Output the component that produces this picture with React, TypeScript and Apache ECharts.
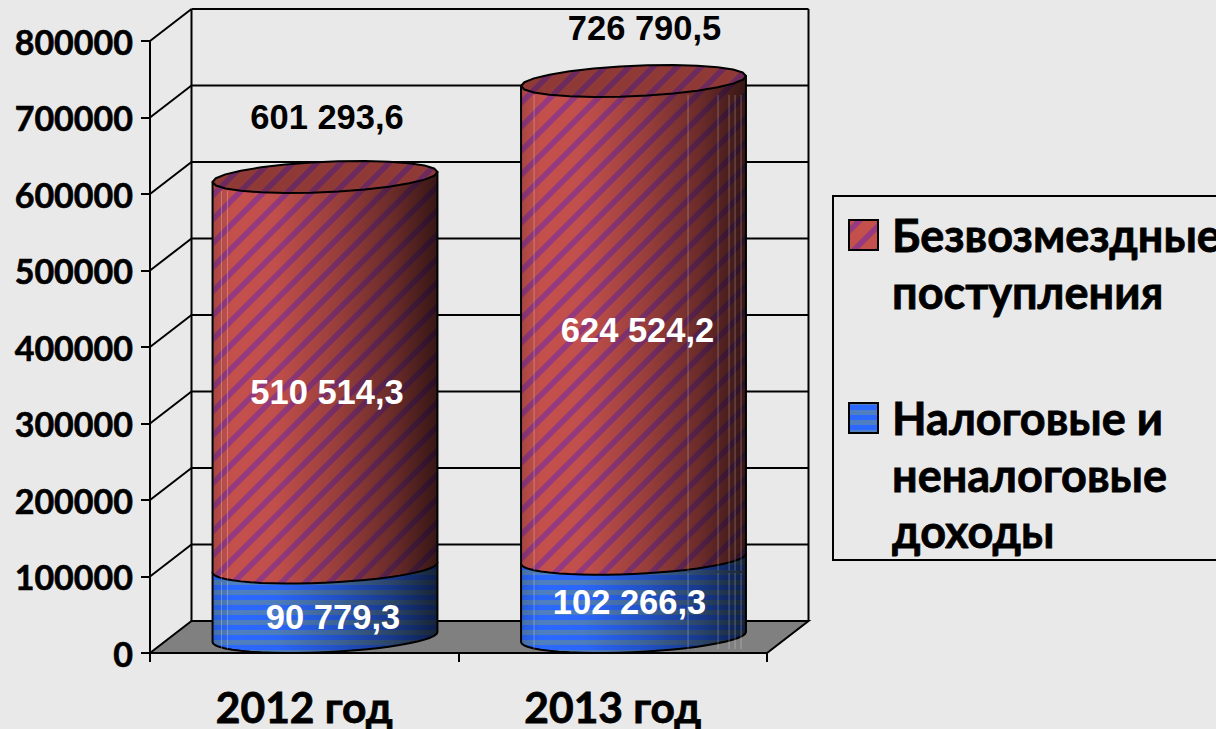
import React, { useEffect, useRef } from "react";
import * as echarts from "echarts";

const categories = ["2012 год", "2013 год"];
const taxIncome = [90779.3, 102266.3];
const grants = [510514.3, 624524.2];
const totals = [601293.6, 726790.5];
const yTicks = [0, 100000, 200000, 300000, 400000, 500000, 600000, 700000, 800000];
const legendGrants = ["Безвозмездные", "поступления"];
const legendTax = ["Налоговые и", "неналоговые", "доходы"];

const DEPTH_X = 41.5;
const DEPTH_Y = 32;
const RX_BAND = 0.3645;
const RY = 15.2;
const TILT = 5;
const FACETS = 26;
const LABEL_FONT = '"Liberation Sans", Arial, sans-serif';
const TITLE_FONT = 'Lato, "Noto Sans", sans-serif';

const taxLabelOffset = [[8, 15], [-4, 4]];
const grantLabelOffset = [[2, 20], [4, 10]];
const totalLabelOffset = [[2, -60], [11, -53]];
const sheenLines = [[9, 15], [13, 167, 197, 208, 214, 220]];

const fmt = (v: number) => {
  const [i, d] = v.toFixed(1).split(".");
  return i.replace(/\B(?=(\d{3})+$)/g, " ") + "," + d;
};

function tile(w: number, h: number, draw: (c: CanvasRenderingContext2D) => void) {
  const cv = document.createElement("canvas");
  cv.width = w;
  cv.height = h;
  draw(cv.getContext("2d") as CanvasRenderingContext2D);
  return { image: cv.toDataURL(), repeat: "repeat", imageWidth: w, imageHeight: h };
}

function redPattern() {
  const P = 24;
  return tile(P, P, (c) => {
    c.fillStyle = "#C4504C";
    c.fillRect(0, 0, P, P);
    c.strokeStyle = "#953A80";
    c.lineWidth = 5.5;
    for (const o of [-P, 0, P]) {
      c.beginPath();
      c.moveTo(o - 2, P + 2);
      c.lineTo(o + P + 2, -2);
      c.stroke();
    }
  });
}

function bluePattern() {
  return tile(10, 10, (c) => {
    c.fillStyle = "#2B68FF";
    c.fillRect(0, 0, 10, 10);
    c.fillStyle = "#4F7FC0";
    c.fillRect(0, 0, 10, 5);
  });
}

function ellipsePts(cx: number, cy: number, a: number, from: number, to: number) {
  const pts: number[][] = [];
  for (let i = 0; i <= FACETS; i++) {
    const t = from + ((to - from) * i) / FACETS;
    pts.push([cx + a * Math.cos(t), cy + RY * Math.sin(t) - TILT * Math.cos(t)]);
  }
  return pts;
}

function cylinderItem(fill: any, offsets: number[][], capped: boolean) {
  return (params: any, api: any) => {
    const cat = api.value(0);
    const lo = api.value(1);
    const hi = api.value(2);
    const grid = params.coordSys;
    const band = grid.width / categories.length;
    const a = band * RX_BAND;
    const base = api.coord([cat, lo]);
    const top = api.coord([cat, hi]);
    const cx = base[0] + DEPTH_X / 2;
    const yLo = base[1] - DEPTH_Y / 2;
    const yHi = top[1] - DEPTH_Y / 2;
    const mid = api.coord([cat, (lo + hi) / 2])[1] - DEPTH_Y / 2;

    // Front half of the lower rim, left to right (sin t runs positive).
    const frontArc = ellipsePts(cx, yLo, a, Math.PI, 0).map((p) => {
      const tiltPart = (-TILT * (p[0] - cx)) / a;
      return [p[0], yLo + tiltPart + Math.abs(p[1] - yLo - tiltPart)];
    });
    const body = [[cx - a, yHi + TILT], ...frontArc, [cx + a, yHi - TILT]];
    const shade = {
      type: "linear",
      x: 0,
      y: 0,
      x2: 1,
      y2: 0,
      colorStops: [
        { offset: 0, color: "rgba(0,0,0,0.14)" },
        { offset: 0.09, color: "rgba(0,0,0,0)" },
        { offset: 0.28, color: "rgba(0,0,0,0.02)" },
        { offset: 0.55, color: "rgba(0,0,0,0.22)" },
        { offset: 0.8, color: "rgba(0,0,0,0.46)" },
        { offset: 1, color: "rgba(0,0,0,0.72)" },
      ],
    };
    const children: any[] = [
      { type: "polygon", shape: { points: body }, style: { fill } },
      { type: "polygon", shape: { points: body }, style: { fill: shade, stroke: "#000", lineWidth: 2, lineJoin: "round" } },
    ];
    sheenLines[cat].forEach((dx) => {
      const x = cx - a + dx;
      children.push({
        type: "line",
        shape: { x1: x, y1: yHi + 14, x2: x, y2: yLo + 12 },
        style: { stroke: "rgba(255,255,255,0.28)", lineWidth: 1 },
      });
    });
    if (capped) {
      const capPts = ellipsePts(cx, yHi, a, 0, Math.PI * 2);
      children.push({ type: "polygon", shape: { points: capPts }, style: { fill } });
      children.push({
        type: "polygon",
        shape: { points: capPts },
        style: { fill: "rgba(0,0,0,0.27)", stroke: "#000", lineWidth: 2, lineJoin: "round" },
      });
    }
    const off = offsets[cat];
    children.push({
      type: "text",
      x: cx + off[0],
      y: mid + off[1],
      style: {
        text: fmt(hi - lo),
        fill: "#fff",
        fontSize: 34.5,
        fontWeight: "bold",
        fontFamily: LABEL_FONT,
        align: "center",
        verticalAlign: "middle",
      },
    });
    if (capped) {
      const t = totalLabelOffset[cat];
      children.push({
        type: "text",
        x: cx + t[0],
        y: yHi + t[1],
        style: {
          text: fmt(totals[cat]),
          fill: "#000",
          fontSize: 34.5,
          fontWeight: "bold",
          fontFamily: LABEL_FONT,
          align: "center",
          verticalAlign: "middle",
        },
      });
    }
    return { type: "group", children };
  };
}

function frameItem(params: any, api: any) {
  const v = api.value(0);
  const g = params.coordSys;
  const y = api.coord([0, v])[1];
  const left = g.x;
  const right = g.x + g.width;
  const lineStyle = { stroke: "#000", lineWidth: 2 };
  const children: any[] = [];
  if (v === 0) {
    children.push({
      type: "polygon",
      shape: {
        points: [
          [left, y],
          [left + DEPTH_X, y - DEPTH_Y],
          [right + DEPTH_X, y - DEPTH_Y],
          [right, y],
        ],
      },
      style: { fill: "#808080", ...lineStyle },
    });
    const top = api.coord([0, yTicks[yTicks.length - 1]])[1];
    children.push({
      type: "line",
      shape: { x1: left + DEPTH_X, y1: top - DEPTH_Y, x2: left + DEPTH_X, y2: y - DEPTH_Y },
      style: lineStyle,
    });
    children.push({
      type: "line",
      shape: { x1: right + DEPTH_X, y1: top - DEPTH_Y, x2: right + DEPTH_X, y2: y - DEPTH_Y },
      style: lineStyle,
    });
  } else {
    children.push({
      type: "line",
      shape: { x1: left, y1: y, x2: left + DEPTH_X, y2: y - DEPTH_Y },
      style: lineStyle,
    });
    children.push({
      type: "line",
      shape: { x1: left + DEPTH_X, y1: y - DEPTH_Y, x2: right + DEPTH_X, y2: y - DEPTH_Y },
      style: lineStyle,
    });
  }
  return { type: "group", children };
}

function legendEntry(lines: string[], top: number, fill: any) {
  const out: any[] = [
    {
      type: "rect",
      shape: { x: 849, y: top - 18, width: 29, height: 30 },
      style: { fill, stroke: "#000", lineWidth: 2 },
    },
  ];
  lines.forEach((text, i) => {
    out.push({
      type: "text",
      x: 892,
      y: top - 3 + i * 56.5,
      style: {
        text,
        fill: "#000",
        stroke: "#000",
        lineWidth: 0.8,
        fontSize: 45,
        fontWeight: "bold",
        fontFamily: TITLE_FONT,
        align: "left",
        verticalAlign: "middle",
      },
    });
  });
  return out;
}

export default function App() {
  const ref = useRef<HTMLDivElement>(null);
  useEffect(() => {
    const chart = echarts.init(ref.current as HTMLDivElement, null, { renderer: "svg" });
    const red = redPattern();
    const blue = bluePattern();
    chart.setOption({
      animation: false,
      backgroundColor: "#E9E9E9",
      grid: { left: 150, right: 449, top: 41, bottom: 76, containLabel: false },
      xAxis: {
        type: "category",
        data: categories,
        z: 5,
        axisLine: { show: true, lineStyle: { color: "#000", width: 2 } },
        axisTick: { show: true, length: 9, lineStyle: { color: "#000", width: 2 } },
        axisLabel: {
          color: "#000",
          fontSize: 42.5,
          lineHeight: 38,
          fontWeight: "bold",
          fontFamily: TITLE_FONT,
          textBorderColor: "#000",
          textBorderWidth: 0.8,
          margin: 34,
        },
      },
      yAxis: {
        type: "value",
        min: 0,
        max: 800000,
        interval: 100000,
        z: 5,
        splitLine: { show: false },
        axisLine: { show: true, lineStyle: { color: "#000", width: 2 } },
        axisTick: { show: true, length: 9, lineStyle: { color: "#000", width: 2 } },
        axisLabel: {
          color: "#000",
          fontSize: 34,
          fontWeight: "bold",
          fontFamily: TITLE_FONT,
          textBorderColor: "#000",
          textBorderWidth: 0.6,
          margin: 17,
          padding: [0, 0, 2, 0],
          formatter: (v: number) => String(v),
        },
      },
      series: [
        {
          type: "custom",
          name: "frame",
          renderItem: frameItem,
          data: yTicks.map((v) => [v]),
          encode: { y: 0 },
          silent: true,
          z: 1,
        },
        {
          type: "custom",
          name: legendTax.join(" "),
          renderItem: cylinderItem(blue, taxLabelOffset, false),
          data: taxIncome.map((v, i) => [i, 0, v]),
          encode: { x: 0, y: [1, 2] },
          z: 2,
        },
        {
          type: "custom",
          name: legendGrants.join(" "),
          renderItem: cylinderItem(red, grantLabelOffset, true),
          data: grants.map((v, i) => [i, taxIncome[i], taxIncome[i] + v]),
          encode: { x: 0, y: [1, 2] },
          z: 3,
        },
      ],
      graphic: [
        {
          type: "rect",
          shape: { x: 833, y: 196, width: 500, height: 364 },
          style: { fill: "none", stroke: "#000", lineWidth: 2 },
        },
        ...legendEntry(legendGrants, 238, red),
        ...legendEntry(legendTax, 421, blue),
      ],
    });
    return () => chart.dispose();
  }, []);
  return (
    <div
      ref={ref}
      style={{ position: "fixed", left: 0, top: 0, width: 1216, height: 729 }}
    />
  );
}
